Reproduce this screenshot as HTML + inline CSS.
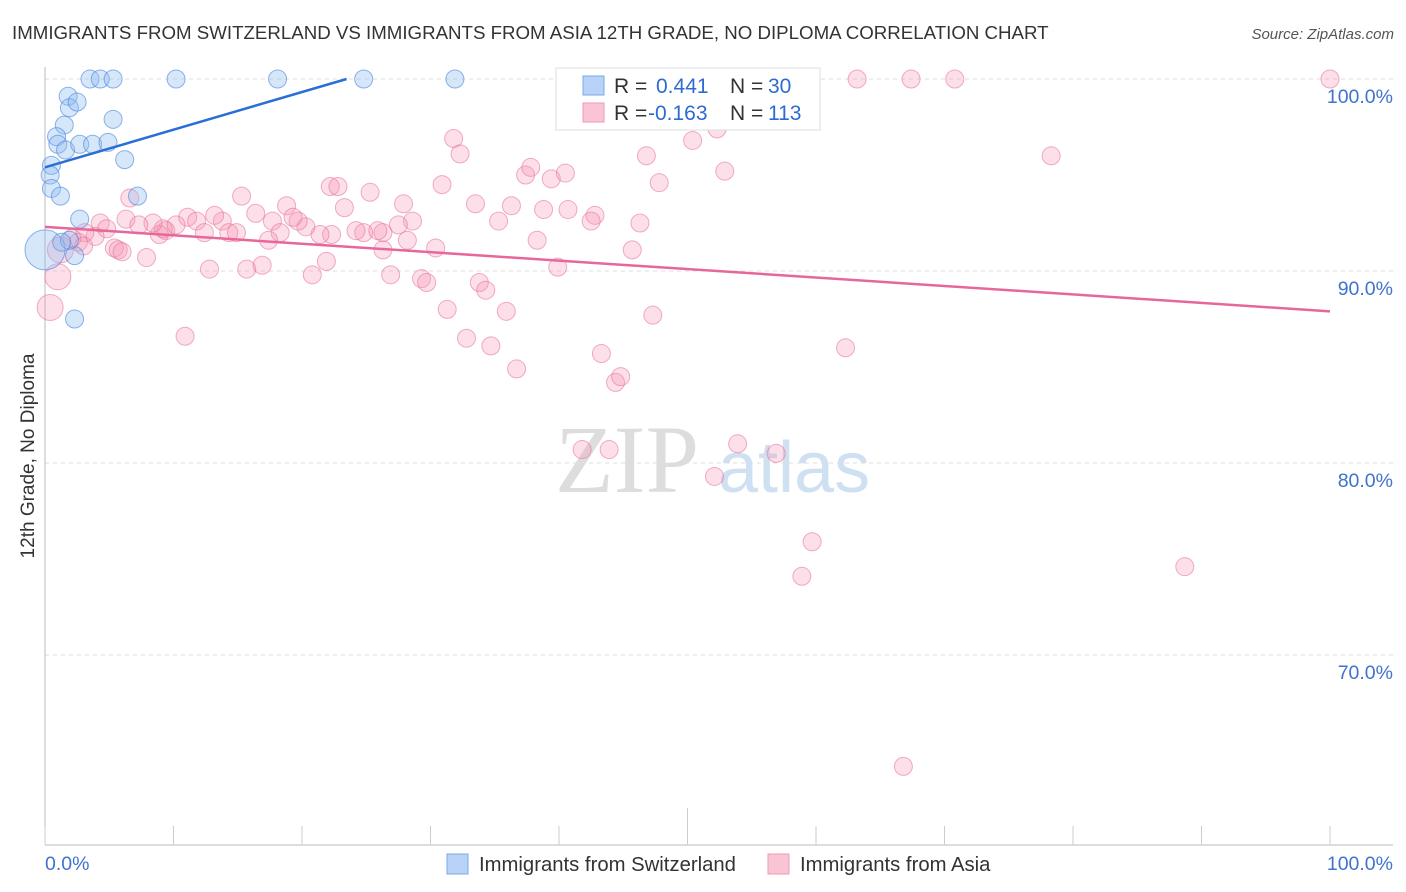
<!DOCTYPE html>
<html><head><meta charset="utf-8"><style>
body{margin:0;background:#fff;font-family:"Liberation Sans",sans-serif;}
#wrap{position:relative;width:1406px;height:892px;overflow:hidden;}
</style></head><body>
<div id="wrap">
<svg id="svg" width="1406" height="892" xmlns="http://www.w3.org/2000/svg">
<text x="12" y="39" font-size="18.7" fill="#333">IMMIGRANTS FROM SWITZERLAND VS IMMIGRANTS FROM ASIA 12TH GRADE, NO DIPLOMA CORRELATION CHART</text>
<text x="1394" y="39" font-size="15" fill="#555" font-style="italic" text-anchor="end">Source: ZipAtlas.com</text>
<text transform="translate(34,456) rotate(-90)" font-size="19" fill="#333" text-anchor="middle">12th Grade, No Diploma</text>
<text x="555" y="492" font-size="96" fill="#ddd" font-family="Liberation Serif">ZIP</text>
<text x="718" y="492" font-size="72" fill="#cfe0f3">atlas</text>
<g id="grid"></g><g id="axes"></g><g id="pts"></g><g id="trend"></g>
<rect x="556" y="68" width="264" height="62" fill="#fff" stroke="#ddd"/>
<rect x="583" y="76" width="21" height="19" fill="#b8d3f7" stroke="#7aa8e8"/>
<rect x="583" y="103" width="21" height="19" fill="#f9c5d5" stroke="#ee9ab4"/>
<g font-size="21">
<text x="614" y="93" fill="#333">R =</text><text x="656" y="93" fill="#2d6bd1">0.441</text><text x="730" y="93" fill="#333">N =</text><text x="768" y="93" fill="#2d6bd1">30</text>
<text x="614" y="120" fill="#333">R =</text><text x="648" y="120" fill="#2d6bd1">-0.163</text><text x="730" y="120" fill="#333">N =</text><text x="768" y="120" fill="#2d6bd1">113</text>
</g>
<rect x="447" y="854" width="21" height="20" fill="#b8d3f7" stroke="#7aa8e8"/>
<text x="479" y="871" font-size="20.3" fill="#333">Immigrants from Switzerland</text>
<rect x="768" y="854" width="21" height="20" fill="#f9c5d5" stroke="#ee9ab4"/>
<text x="800" y="871" font-size="20.3" fill="#333">Immigrants from Asia</text>
</svg>
</div>
<script>
const yTicks=[70,80,90,100];
const yTickLabels=["70.0%","80.0%","90.0%","100.0%"];
const xTickVals=[0,10,20,30,40,50,60,70,80,90,100];
const blueX=[3.5,4.3,5.3,10.2,18.1,24.8,31.9,1.8,1.9,2.5,1.5,5.3,0.9,1.0,1.6,2.7,3.7,4.9,6.2,0.5,0.4,0.5,1.2,7.2,2.7,2.3,2.3,0,1.9,1.3];
const blueY=[100,100,100,100,100,100,100,99.1,98.5,98.8,97.6,97.9,97.0,96.6,96.3,96.6,96.6,96.7,95.8,95.5,95.0,94.3,93.9,93.9,92.7,90.8,87.5,91.1,91.6,91.5];
const blueR=[9,9,9,9,9,9,9,9,9,9,9,9,9,9,9,9,9,9,9,9,9,9,9,9,9,9,9,20,9,9];
const pinkX=[53.4,63.2,67.4,70.8,100,52.3,50.4,31.8,32.3,46.8,78.3,52.9,47.8,37.4,37.8,39.4,40.5,30.9,22.2,22.8,25.3,27.9,33.5,36.3,23.3,18.8,38.8,40.7,42.8,42.5,46.3,35.3,28.6,27.5,26.3,24.8,24.2,25.9,22.3,21.4,20.3,19.7,19.3,17.7,18.3,17.4,16.4,15.3,13.8,13.2,11.1,11.8,12.4,14.3,14.9,9.4,8.9,9.2,10.2,8.4,6.6,6.3,7.3,4.3,4.8,3.9,3.1,2.1,2.6,5.4,5.7,7.9,12.8,15.7,16.9,20.8,21.9,26.3,28.2,30.4,26.9,29.3,29.7,33.8,34.3,39.9,38.3,45.7,31.3,32.8,34.7,35.9,36.7,43.3,44.4,44.8,47.3,62.3,10.9,1.0,0.4,1.2,41.8,43.9,53.9,56.9,52.1,59.7,58.9,88.7,66.8,3.0,6.0];
const pinkY=[100,100,100,100,100,97.4,96.8,96.9,96.1,96.0,96.0,95.2,94.6,95.0,95.4,94.8,95.1,94.5,94.4,94.4,94.1,93.5,93.5,93.4,93.3,93.4,93.2,93.2,92.9,92.6,92.5,92.6,92.6,92.4,92.0,92.0,92.1,92.1,91.9,91.9,92.3,92.6,92.8,92.6,92.0,91.6,93.0,93.9,92.6,92.9,92.8,92.6,92.0,92.0,92.0,92.1,91.9,92.2,92.4,92.5,93.8,92.7,92.4,92.5,92.2,91.8,92.0,91.7,91.5,91.2,91.1,90.7,90.1,90.1,90.3,89.8,90.5,91.1,91.6,91.2,89.8,89.6,89.4,89.4,89.0,90.2,91.6,91.1,88.0,86.5,86.1,87.9,84.9,85.7,84.2,84.5,87.7,86.0,86.6,89.7,88.1,91.1,80.7,80.7,81.0,80.5,79.3,75.9,74.1,74.6,64.2,91.3,91.0];
const pinkR=pinkX.map((v,i)=>(i===99||i===100||i===101)?13:9);
const blueTrend=[95.4,0.196];
const pinkTrend=[92.3,-0.044];
const X0=45,X1=1330,Y100=79,PX10=192;
const sx=v=>X0+(X1-X0)*v/100;
const sy=v=>Y100+(100-v)*PX10/10;
const NS="http://www.w3.org/2000/svg";
function mk(tag,attrs,parent){const e=document.createElementNS(NS,tag);for(const k in attrs)e.setAttribute(k,attrs[k]);document.getElementById(parent).appendChild(e);return e;}
yTicks.forEach((t,i)=>{
 const l=mk('line',{x1:45,x2:1393,y1:sy(t),y2:sy(t),stroke:'#ddd','stroke-dasharray':'4,4'},'grid');
 
 
 const tx=mk('text',{x:1393,y:sy(t)+24,'font-size':19.5,fill:'#3f73cc','text-anchor':'end'},'grid');
 tx.textContent=yTickLabels[i];
 
 
});
const ya=mk('line',{x1:45,x2:45,y1:67,y2:845,stroke:'#bbb'},'axes');


const xa=mk('line',{x1:45,x2:1393,y1:845,y2:845,stroke:'#bbb'},'axes');


xTickVals.forEach(v=>{
 const t=mk('line',{x1:sx(v),x2:sx(v),y1:v===50?808:826,y2:845,stroke:'#ccc'},'axes');
 
 
});
const xl0=mk('text',{x:45,y:870,'font-size':19.5,fill:'#3f73cc'},'axes');xl0.textContent='0.0%';


const xl1=mk('text',{x:1393,y:870,'font-size':19.5,fill:'#3f73cc','text-anchor':'end'},'axes');xl1.textContent='100.0%';


pinkX.forEach((x,i)=>{
 const c=mk('circle',{cx:sx(x),cy:sy(pinkY[i]),r:pinkR[i],fill:'rgba(244,150,180,0.3)',stroke:'rgba(230,110,150,0.55)','stroke-width':1},'pts');
 
 
});
blueX.forEach((x,i)=>{
 const c=mk('circle',{cx:sx(x),cy:sy(blueY[i]),r:blueR[i],fill:'rgba(140,185,240,0.35)',stroke:'rgba(70,130,220,0.6)','stroke-width':1},'pts');
 
 
});
const bEnd=(100-blueTrend[0])/blueTrend[1];
const bl=mk('line',{x1:sx(0),y1:sy(blueTrend[0]),x2:sx(bEnd),y2:sy(100),stroke:'#2a6fd6','stroke-width':2.5},'trend');


const pl=mk('line',{x1:sx(0),y1:sy(pinkTrend[0]),x2:sx(100),y2:sy(pinkTrend[0]+pinkTrend[1]*100),stroke:'#e8679a','stroke-width':2.5},'trend');


</script>
</body></html>
